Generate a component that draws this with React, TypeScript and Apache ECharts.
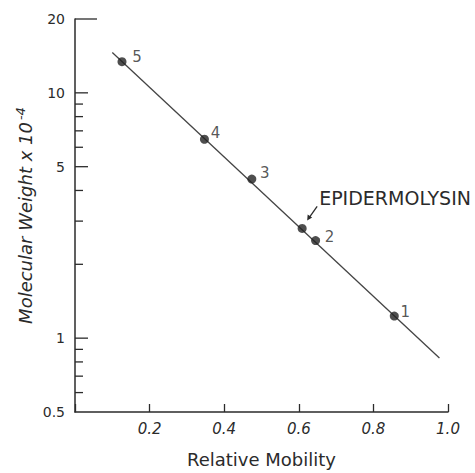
import React, { useEffect, useRef } from "react";
import * as echarts from "echarts";

// Data
const markerNames = ["5", "4", "3", "2", "1"];
const markerMobility = [0.126, 0.347, 0.474, 0.645, 0.856];
const markerWeight = [13.4, 6.47, 4.45, 2.5, 1.23];

const sampleName = "EPIDERMOLYSIN";
const sampleMobility = [0.609];
const sampleWeight = [2.8];

const fitMobility = [0.1, 0.977];
const fitWeight = [14.6, 0.83];

const xTicks = [0.2, 0.4, 0.6, 0.8, 1.0];
const yMajorTicks = [20, 10, 5, 1];
const yMinorTicks = [9, 8, 7, 6, 4, 3, 2, 0.9, 0.8, 0.7, 0.6];
const yTickLabels = [20, 10, 5, 1, 0.5];

const FONT = "'DejaVu Sans', 'Liberation Sans', sans-serif";
const INK = "#2b2b2b";

export default function App() {
  const ref = useRef<HTMLDivElement>(null);
  useEffect(() => {
    if (!ref.current) return;
    const chart = echarts.init(ref.current, null, { renderer: "svg" });

    const labelOffsets: [number, number][] = [
      [15, -5],
      [11, -6],
      [13, -6],
      [14, -4],
      [11, -4],
    ];

    const markerData = markerNames.map((n, i) => ({
      name: n,
      value: [markerMobility[i], markerWeight[i]],
      label: {
        show: true,
        formatter: n,
        position: "inside",
        offset: labelOffsets[i],
        color: INK,
        fontSize: 15,
        fontFamily: FONT,
      },
    }));

    const yTickItems = [
      ...yMajorTicks.map((v) => [0, v, v === 20 ? 22 : 13]),
      ...yMinorTicks.map((v) => [0, v, 8]),
    ];

    const option: any = {
      animation: false,
      backgroundColor: "#ffffff",
      grid: { left: 75, right: 27, top: 19, bottom: 57 },
      xAxis: {
        type: "value",
        min: 0,
        max: 1.0,
        interval: 0.2,
        axisLine: { show: true, lineStyle: { color: INK, width: 1.5 } },
        axisTick: { show: true, inside: true, length: 8, lineStyle: { color: INK, width: 1.3 } },
        splitLine: { show: false },
        axisLabel: {
          margin: 9,
          color: INK,
          fontSize: 15,
          fontStyle: "italic",
          fontFamily: FONT,
          formatter: (v: number) => (xTicks.some((t) => Math.abs(t - v) < 1e-9) ? v.toFixed(1) : ""),
        },
        name: "Relative Mobility",
        nameLocation: "middle",
        nameGap: 38,
        nameTextStyle: { color: INK, fontSize: 18, fontFamily: FONT },
      },
      yAxis: {
        type: "log",
        logBase: 10,
        min: 0.5,
        max: 20,
        axisLine: { show: true, lineStyle: { color: INK, width: 1.5 } },
        axisTick: { show: false },
        axisLabel: { show: false },
        splitLine: { show: false },
        minorTick: { show: false },
        name: "Molecular Weight x 10{sup|-4}",
        nameLocation: "middle",
        nameRotate: 90,
        nameGap: 38,
        nameTextStyle: {
          color: INK,
          fontSize: 18,
          fontStyle: "italic",
          fontFamily: FONT,
          rich: {
            sup: { fontSize: 13, fontStyle: "italic", fontFamily: FONT, color: INK, padding: [0, 0, 10, 2] },
          },
        },
      },
      series: [
        {
          type: "line",
          data: fitMobility.map((x, i) => [x, fitWeight[i]]),
          symbol: "none",
          lineStyle: { color: "#444", width: 1.3 },
          z: 2,
        },
        {
          type: "scatter",
          data: markerData,
          symbol: "circle",
          symbolSize: 9,
          itemStyle: { color: "#222" },
          z: 3,
        },
        {
          type: "scatter",
          data: sampleMobility.map((x, i) => [x, sampleWeight[i]]),
          symbol: "circle",
          symbolSize: 9,
          itemStyle: { color: "#222" },
          z: 3,
        },
        {
          type: "custom",
          clip: false,
          silent: true,
          data: sampleMobility.map((x, i) => [x, sampleWeight[i]]),
          renderItem: (params: any, api: any) => {
            const p = api.coord([api.value(0), api.value(1)]);
            const tail = [p[0] + 15, p[1] - 22];
            const head = [p[0] + 5, p[1] - 8];
            return {
              type: "group",
              children: [
                {
                  type: "line",
                  shape: { x1: tail[0], y1: tail[1], x2: head[0] + 1.5, y2: head[1] - 2 },
                  style: { stroke: INK, lineWidth: 1.3 },
                },
                {
                  type: "polygon",
                  shape: {
                    points: [
                      [head[0], head[1]],
                      [head[0] + 0.5, head[1] - 6],
                      [head[0] + 5, head[1] - 3],
                    ],
                  },
                  style: { fill: INK },
                },
                {
                  type: "text",
                  x: p[0] + 17,
                  y: p[1] - 30,
                  style: {
                    text: sampleName,
                    fill: INK,
                    font: `19px ${FONT}`,
                    textAlign: "left",
                    textVerticalAlign: "middle",
                  },
                },
              ],
            };
          },
          z: 4,
        },
        {
          type: "custom",
          clip: false,
          silent: true,
          data: yTickItems,
          renderItem: (params: any, api: any) => {
            const p = api.coord([api.value(0), api.value(1)]);
            const len = api.value(2);
            return {
              type: "line",
              shape: { x1: p[0], y1: p[1], x2: p[0] + len, y2: p[1] },
              style: { stroke: INK, lineWidth: 1.3 },
            };
          },
          z: 5,
        },
        {
          type: "custom",
          clip: false,
          silent: true,
          data: yTickLabels.map((v) => [0, v]),
          renderItem: (params: any, api: any) => {
            const v = api.value(1);
            const p = api.coord([0, v]);
            return {
              type: "text",
              x: p[0] - 10,
              y: p[1],
              style: {
                text: String(v),
                fill: INK,
                font: `14px ${FONT}`,
                textAlign: "right",
                textVerticalAlign: "middle",
              },
            };
          },
          z: 5,
        },
      ],
    };

    chart.setOption(option);
    return () => chart.dispose();
  }, []);

  return (
    <div
      ref={ref}
      style={{ position: "fixed", left: 0, top: 0, width: 475, height: 473 }}
    />
  );
}
